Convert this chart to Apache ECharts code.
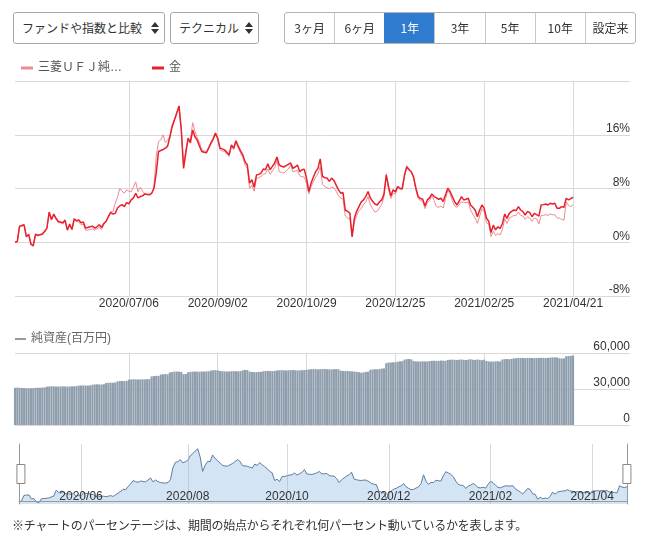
<!DOCTYPE html>
<html><head><meta charset="utf-8">
<script src="https://cdn.jsdelivr.net/npm/echarts@6/dist/echarts.min.js"></script>
<style>
body{margin:0;width:647px;height:537px;overflow:hidden;background:#fff;font-family:'Liberation Sans','Noto Sans CJK JP',sans-serif;}
#chart{position:absolute;left:0;top:0;width:647px;height:537px;}
.sel{position:absolute;top:12px;height:32px;box-sizing:border-box;border:1px solid #a9a9a9;border-radius:3px;font-size:12px;color:#333;line-height:30px;padding-left:8px;background:#fff;font-family:'Noto Sans CJK JP',sans-serif;}
.sel svg{position:absolute;right:5px;top:9px;}
.grp{position:absolute;left:284px;top:12px;width:352px;height:32px;box-sizing:border-box;border:1px solid #b5b5b5;border-radius:3px;display:flex;overflow:hidden;font-family:'Noto Sans CJK JP',sans-serif;}
.grp div{flex:1;text-align:center;line-height:30px;font-size:12px;color:#333;border-left:1px solid #c8c8c8;}
.grp div:first-child{border-left:none;}
.grp div.on{background:#2f7bcf;color:#fff;border-left-color:#2f7bcf;}
.note{position:absolute;left:12px;top:516px;font-size:12px;color:#333;letter-spacing:-0.25px;font-family:'Noto Sans CJK JP',sans-serif;white-space:nowrap;}
</style></head>
<body>
<div id="chart"></div>
<div class="sel" style="left:13px;width:152px;">ファンドや指数と比較<svg width="8" height="12" viewBox="0 0 8 12"><path d="M4 0L8 5H0Z M4 12L8 7H0Z" fill="#333"/></svg></div>
<div class="sel" style="left:170px;width:89px;">テクニカル<svg width="8" height="12" viewBox="0 0 8 12"><path d="M4 0L8 5H0Z M4 12L8 7H0Z" fill="#333"/></svg></div>
<div class="grp"><div>3ヶ月</div><div>6ヶ月</div><div class="on">1年</div><div>3年</div><div>5年</div><div>10年</div><div>設定来</div></div>
<div class="note">※チャートのパーセンテージは、期間の始点からそれぞれ何パーセント動いているかを表します。</div>
<script>
const dates = [
'2020/04/21','2020/04/22','2020/04/23','2020/04/24','2020/04/27','2020/04/28','2020/04/30',
'2020/05/01','2020/05/07','2020/05/08','2020/05/11','2020/05/12','2020/05/13','2020/05/14','2020/05/15','2020/05/18','2020/05/19','2020/05/20','2020/05/21','2020/05/22','2020/05/25','2020/05/26','2020/05/27','2020/05/28','2020/05/29',
'2020/06/01','2020/06/02','2020/06/03','2020/06/04','2020/06/05','2020/06/08','2020/06/09','2020/06/10','2020/06/11','2020/06/12','2020/06/15','2020/06/16','2020/06/17','2020/06/18','2020/06/19','2020/06/22','2020/06/23','2020/06/24','2020/06/25','2020/06/26','2020/06/29','2020/06/30',
'2020/07/01','2020/07/02','2020/07/03','2020/07/06','2020/07/07','2020/07/08','2020/07/09','2020/07/10','2020/07/13','2020/07/14','2020/07/15','2020/07/16','2020/07/17','2020/07/20','2020/07/21','2020/07/22','2020/07/27','2020/07/28','2020/07/29','2020/07/30','2020/07/31',
'2020/08/03','2020/08/04','2020/08/05','2020/08/06','2020/08/07','2020/08/11','2020/08/12','2020/08/13','2020/08/14','2020/08/17','2020/08/18','2020/08/19','2020/08/20','2020/08/21','2020/08/24','2020/08/25','2020/08/26','2020/08/27','2020/08/28','2020/08/31',
'2020/09/01','2020/09/02','2020/09/03','2020/09/04','2020/09/07','2020/09/08','2020/09/09','2020/09/10','2020/09/11','2020/09/14','2020/09/15','2020/09/16','2020/09/17','2020/09/18','2020/09/23','2020/09/24','2020/09/25','2020/09/28','2020/09/29','2020/09/30',
'2020/10/01','2020/10/02','2020/10/05','2020/10/06','2020/10/07','2020/10/08','2020/10/09','2020/10/12','2020/10/13','2020/10/14','2020/10/15','2020/10/16','2020/10/19','2020/10/20','2020/10/21','2020/10/22','2020/10/23','2020/10/26','2020/10/27','2020/10/28','2020/10/29','2020/10/30',
'2020/11/02','2020/11/04','2020/11/05','2020/11/06','2020/11/09','2020/11/10','2020/11/11','2020/11/12','2020/11/13','2020/11/16','2020/11/17','2020/11/18','2020/11/19','2020/11/20','2020/11/24','2020/11/25','2020/11/26','2020/11/27','2020/11/30',
'2020/12/01','2020/12/02','2020/12/03','2020/12/04','2020/12/07','2020/12/08','2020/12/09','2020/12/10','2020/12/11','2020/12/14','2020/12/15','2020/12/16','2020/12/17','2020/12/18','2020/12/21','2020/12/22','2020/12/23','2020/12/24','2020/12/25','2020/12/28','2020/12/29','2020/12/30',
'2021/01/04','2021/01/05','2021/01/06','2021/01/07','2021/01/08','2021/01/12','2021/01/13','2021/01/14','2021/01/15','2021/01/18','2021/01/19','2021/01/20','2021/01/21','2021/01/22','2021/01/25','2021/01/26','2021/01/27','2021/01/28','2021/01/29',
'2021/02/01','2021/02/02','2021/02/03','2021/02/04','2021/02/05','2021/02/08','2021/02/09','2021/02/10','2021/02/12','2021/02/15','2021/02/16','2021/02/17','2021/02/18','2021/02/19','2021/02/22','2021/02/24','2021/02/25','2021/02/26',
'2021/03/01','2021/03/02','2021/03/03','2021/03/04','2021/03/05','2021/03/08','2021/03/09','2021/03/10','2021/03/11','2021/03/12','2021/03/15','2021/03/16','2021/03/17','2021/03/18','2021/03/19','2021/03/22','2021/03/23','2021/03/24','2021/03/25','2021/03/26','2021/03/29','2021/03/30','2021/03/31',
'2021/04/01','2021/04/02','2021/04/05','2021/04/06','2021/04/07','2021/04/08','2021/04/09','2021/04/12','2021/04/13','2021/04/14','2021/04/15','2021/04/16','2021/04/19','2021/04/20','2021/04/21'
];
// 三菱ＵＦＪ純金ファンド (%)
const fundPct = [
0,0.1,2.3,2.4,2.5,0.9,1.1,-0.2,-0.5,1.0,
1.1,1.2,1.3,1.7,2.0,4.3,3.3,4.0,3.4,2.9,
2.9,2.7,3.1,1.9,2.5,2.0,3.3,3.1,3.0,2.6,
2.7,1.8,1.8,1.9,2.0,1.8,2.0,2.2,1.9,2.6,
3.2,3.9,4.6,4.5,5.8,6.7,8.0,7.6,7.3,7.8,
7.6,7.5,8.2,9.0,7.5,8.2,7.6,7.2,7.1,7.0,
7.2,8.3,12.8,15.0,15.25,16.0,14.8,15.2,15.7,17.5,
18.3,19.3,20.2,17.0,11.5,13.8,15.3,15.2,17.8,16.5,
15.6,14.8,13.8,13.6,13.5,14.0,14.5,15.2,16.0,15.4,
13.75,13.6,13.5,13.1,12.75,14.3,13.8,14.9,14.0,13.3,
12.6,11.5,11.0,8.0,8.5,7.6,9.5,9.6,9.8,10.1,
10.2,10.9,10.1,10.6,11.1,12.2,10.5,10.4,10.3,10.6,
10.9,11.5,10.5,10.6,10.7,9.9,9.75,9.7,8.7,7.2,
8.3,9.0,9.7,10.2,11.2,8.6,8.3,8.1,8.0,8.2,
8.1,7.6,6.9,6.6,6.4,3.9,3.6,3.5,1.0,3.0,
4.0,4.7,5.0,5.6,6.0,6.8,5.6,5.0,4.5,4.6,
5.1,5.6,6.8,10.2,7.8,6.5,7.3,7.2,8.1,7.9,
7.8,9.8,11.4,10.9,10.4,9.5,7.8,6.5,6.2,6.1,
5.0,5.9,6.2,6.9,6.2,5.3,5.2,5.4,5.1,6.5,
7.7,7.2,6.2,5.4,5.2,5.6,6.0,5.9,5.9,6.0,
4.8,4.2,3.6,2.8,3.9,5.0,4.5,2.9,2.7,0.85,
1.6,1.0,1.3,1.1,1.9,3.5,2.8,3.6,3.8,4.0,
4.0,4.5,4.0,3.9,3.4,3.8,3.6,3.1,3.6,3.5,
2.7,4.0,4.0,4.1,4.0,4.2,4.1,4.1,3.6,3.6,
3.4,3.3,6.0,5.5,5.3,5.6
];
// 金 (%)
const goldPct = [
0,0.1,2.4,2.5,2.6,0.8,1.2,-0.3,-0.55,1.2,
1.0,1.1,1.2,1.6,2.1,4.5,3.4,4.2,3.6,3.1,
3.0,2.9,3.3,1.8,2.7,1.9,3.5,3.2,3.3,2.9,
3.0,2.1,2.2,2.3,2.4,2.1,2.3,2.6,2.2,2.8,
3.1,3.8,4.4,4.2,4.3,5.1,5.4,5.6,5.3,5.9,
5.7,6.3,6.6,7.3,6.6,6.8,6.9,7.2,7.1,7.1,
7.3,8.0,10.3,13.5,13.65,13.8,14.0,14.3,15.7,17.2,
18.2,19.2,20.3,16.7,11.0,13.3,15.5,14.8,16.7,15.7,
15.2,14.3,13.5,13.4,13.3,14.0,14.8,15.4,16.25,15.5,
14.0,13.9,13.75,13.4,13.0,14.5,14.0,15.1,14.3,13.6,
13.0,12.0,11.5,8.8,9.3,8.2,10.0,10.1,10.3,10.9,
10.8,11.7,10.8,11.3,11.8,12.7,11.5,11.3,11.2,11.4,
11.6,11.8,11.0,11.2,11.5,10.5,10.8,10.85,9.5,7.55,
8.8,9.7,10.5,11.0,12.4,9.8,9.6,9.55,9.05,9.55,
9.2,8.5,7.8,7.3,7.4,4.8,4.6,4.35,0.8,3.6,
4.6,5.3,6.0,6.3,6.8,7.55,6.6,6.1,5.7,5.55,
6.0,6.3,7.2,10.0,8.3,6.9,7.8,7.5,8.3,8.05,
8.0,10.0,11.2,10.8,10.5,9.7,8.05,6.8,6.5,6.4,
5.4,6.3,6.6,7.2,6.8,6.6,6.4,6.55,6.05,7.05,
8.05,7.55,6.8,6.05,5.55,6.1,6.8,6.3,6.4,6.55,
5.55,5.2,4.8,3.8,4.8,5.55,5.05,3.6,3.1,1.45,
2.55,1.85,2.3,2.05,2.8,4.2,3.55,4.3,4.6,4.8,
4.7,5.3,4.8,4.55,4.05,4.6,4.4,3.8,4.3,4.1,
3.9,5.55,5.6,5.7,5.55,5.8,5.7,5.8,5.05,5.05,
5.3,5.2,6.55,6.3,6.5,6.7
];
// 純資産 (百万円)
const netAssets = [
31000,31200,31000,30900,30800,
30700,30600,30700,30800,
31000,31100,31000,31200,31300,
32000,32100,32300,32200,32100,32000,32100,32200,32100,32000,32100,32200,32300,32400,
32800,32900,33000,32900,32800,33000,
33600,33800,33900,33800,33700,34000,
35000,35200,35300,35200,35400,
36400,36600,36700,36600,36800,
37800,38000,38100,38000,37900,38000,38100,38000,38200,38300,
40500,40800,41000,40900,
42000,42300,42500,42300,
43800,44200,44500,44600,44400,44200,
42300,42500,
44000,44300,44500,44600,44500,44400,44600,44500,44700,44800,
45400,45600,45700,45500,
45000,44800,44700,44600,44700,44800,44900,44800,44700,44900,
45600,45900,45800,
44500,44200,44000,44100,44300,44200,
44800,45000,45100,45000,44900,45100,
45500,45600,45700,45600,45500,45600,45700,45800,45600,45500,45600,45700,45800,45900,
46300,46500,46600,46500,46400,46500,46600,46700,46500,46400,46300,46500,46600,46400,
45300,45000,44900,45000,44800,44700,44500,
44300,44000,43600,43800,44200,44400,
46000,46300,46500,46400,46600,
47000,47200,
51500,52000,52100,52300,52200,
52800,53000,53200,
54500,54900,55000,54700,
53300,53000,52900,53000,53100,53000,52900,
53300,53500,53600,53400,53500,53700,53600,53500,
54200,54400,54500,54300,54200,54400,54600,
54300,54100,54500,54800,54400,54200,54600,54300,54000,54400,
53300,53000,52800,52900,53000,53100,53000,
54600,54900,55000,54800,55100,
55500,55700,55800,55900,55800,55700,55800,55900,55800,55700,55800,55900,56000,55900,55800,55900,
56200,56300,56400,56300,
55600,55400,55500,
57300,57500,57700,57800
];
const mainTicks = ['2020/07/06','2020/09/02','2020/10/29','2020/12/25','2021/02/25','2021/04/21'];
const navTicks = ['2020/06/01','2020/08/03','2020/10/01','2020/12/01','2021/02/01','2021/04/01'];
const seriesNames = ['三菱ＵＦＪ純金ファンド','金'];
const barName = '純資産(百万円)';
const padCount = 25; // empty slots to the right of the last day

const axisCats = dates.concat(new Array(padCount).fill(''));
const mainInt = (i, v) => mainTicks.indexOf(v) >= 0;
const navInt = (i, v) => navTicks.indexOf(v) >= 0;
const FONT = "'Liberation Sans','Noto Sans CJK JP',sans-serif";
const gridLine = {color:'#d9d9d9', width:1};

const chart = echarts.init(document.getElementById('chart'), null, {renderer:'canvas'});
chart.setOption({
  animation:false,
  textStyle:{fontFamily:FONT},
  legend:[
    {data:seriesNames, left:21, top:62, padding:0, icon:'rect', itemWidth:12, itemHeight:3, itemGap:30, selectedMode:false,
     textStyle:{color:'#555', fontSize:12, fontFamily:FONT},
     formatter:n => n.length > 6 ? n.slice(0,6) + '…' : n},
    {data:[barName], left:15, top:333, padding:0, icon:'rect', itemWidth:11, itemHeight:2, selectedMode:false,
     itemStyle:{color:'#9a9a9a'}, textStyle:{color:'#666', fontSize:12, fontFamily:FONT}}
  ],
  grid:[
    {left:15, top:81, width:615, height:215},
    {left:15, top:353, width:615, height:72},
    {left:19, top:444, width:608, height:60}
  ],
  xAxis:[
    {gridIndex:0, type:'category', data:axisCats, boundaryGap:false,
     axisLine:{show:false}, axisTick:{show:false},
     axisLabel:{interval:mainInt, color:'#333', fontSize:12, margin:2},
     splitLine:{show:true, interval:mainInt, lineStyle:gridLine}},
    {gridIndex:1, type:'category', data:axisCats, boundaryGap:false,
     axisLine:{show:false}, axisTick:{show:false}, axisLabel:{show:false},
     splitLine:{show:true, interval:mainInt, lineStyle:gridLine}},
    {gridIndex:2, type:'category', data:dates, boundaryGap:false, z:5,
     axisLine:{show:true, lineStyle:{color:'#9a9a9a'}}, axisTick:{show:false},
     axisLabel:{interval:navInt, inside:true, margin:1, color:'#333', fontSize:12, formatter:v => v.slice(0,7)},
     splitLine:{show:true, interval:navInt, lineStyle:{color:'rgba(170,170,170,0.45)'}}}
  ],
  yAxis:[
    {gridIndex:0, type:'value', position:'right', min:-8, max:24, interval:8,
     axisLine:{show:false}, axisTick:{show:false},
     axisLabel:{inside:true, margin:0, verticalAlign:'bottom', color:'#333', fontSize:12, formatter:'{value}%', showMaxLabel:false},
     splitLine:{lineStyle:gridLine}},
    {gridIndex:1, type:'value', position:'right', min:0, max:60000, interval:30000,
     axisLine:{show:false}, axisTick:{show:false},
     axisLabel:{inside:true, margin:0, verticalAlign:'bottom', color:'#333', fontSize:12, formatter:v => v.toLocaleString('en-US')},
     splitLine:{lineStyle:gridLine}},
    {gridIndex:2, type:'value', position:'left', min:-1, max:22, z:5,
     axisLine:{show:true, lineStyle:{color:'#9a9a9a'}}, axisTick:{show:false}, axisLabel:{show:false}, splitLine:{show:false}},
    {gridIndex:2, type:'value', position:'right', min:-1, max:22, z:5,
     axisLine:{show:true, lineStyle:{color:'#9a9a9a'}}, axisTick:{show:false}, axisLabel:{show:false}, splitLine:{show:false}}
  ],
  dataZoom:[
    {type:'slider', xAxisIndex:2, filterMode:'none', start:0, end:100,
     left:19, right:20, top:444, height:60, z:10,
     showDataShadow:false, showDetail:false, brushSelect:false,
     borderColor:'transparent', backgroundColor:'transparent', fillerColor:'rgba(0,0,0,0)',
     moveHandleSize:0,
     handleIcon:'path://M0,0H8V19H0Z', handleSize:19,
     handleStyle:{color:'#fff', borderColor:'#888', borderWidth:1}}
  ],
  series:[
    {name:seriesNames[0], type:'line', xAxisIndex:0, yAxisIndex:0, data:fundPct, symbol:'none',
     color:'#ec8a92', lineStyle:{width:1, color:'#ec8a92'}},
    {name:seriesNames[1], type:'line', xAxisIndex:0, yAxisIndex:0, data:goldPct, symbol:'none',
     color:'#e8202c', lineStyle:{width:1.5, color:'#e8202c'}},
    {name:barName, type:'bar', xAxisIndex:1, yAxisIndex:1, data:netAssets, barWidth:2.1,
     itemStyle:{color:'#8f9ead'}},
    {name:'navigator', type:'line', xAxisIndex:2, yAxisIndex:2, data:fundPct, symbol:'none', z:1,
     lineStyle:{width:1, color:'#5f7d9e'}, areaStyle:{color:'#d3e4f4', opacity:1, origin:'start'}}
  ]
});
</script>
</body></html>
